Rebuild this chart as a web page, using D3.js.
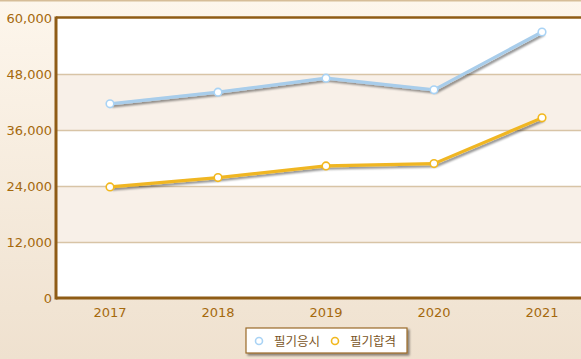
<!DOCTYPE html>
<html><head><meta charset="utf-8">
<script src="https://cdn.jsdelivr.net/npm/d3@7"></script>
<style>
html,body{margin:0;padding:0;overflow:hidden;}
svg{display:block;font-family:"DejaVu Sans",Verdana,sans-serif;}
</style></head>
<body>
<script>
const categories = ["2017","2018","2019","2020","2021"];
const seriesNames = ["필기응시","필기합격"];
const applicants = [41600, 44100, 47100, 44600, 57000];
const passers = [23800, 25800, 28300, 28800, 38600];
const yTicks = [0, 12000, 24000, 36000, 48000, 60000];

(function(){
const W = 581, H = 359;
const svg = d3.select("body").append("svg").attr("width", W).attr("height", H);
const defs = svg.append("defs");
const g0 = defs.append("linearGradient").attr("id","bg").attr("x1",0).attr("y1",0).attr("x2",0).attr("y2",1);
g0.append("stop").attr("offset","0%").attr("stop-color","#fdf6ec");
g0.append("stop").attr("offset","100%").attr("stop-color","#efe1cf");
const f = defs.append("filter").attr("id","sh").attr("x","-10%").attr("y","-50%").attr("width","120%").attr("height","200%");
f.append("feGaussianBlur").attr("in","SourceAlpha").attr("stdDeviation",1.2).attr("result","b");
f.append("feOffset").attr("in","b").attr("dx",1.5).attr("dy",2).attr("result","o");
f.append("feComponentTransfer").attr("in","o").attr("result","o2").append("feFuncA").attr("type","linear").attr("slope",0.45);
const fm = f.append("feMerge"); fm.append("feMergeNode").attr("in","o2"); fm.append("feMergeNode").attr("in","SourceGraphic");

svg.append("rect").attr("width",W).attr("height",H).attr("fill","url(#bg)");
svg.append("rect").attr("x",0).attr("y",0).attr("width",W).attr("height",1.5).attr("fill","#d6bd98");

const pL = 56, pT = 18, pB = 298, pR = 596;
const x = d3.scaleBand().domain(categories).range([pL, pR]);
const y = d3.scaleLinear().domain([0, 60000]).range([pB, pT]);

for (let i = 0; i < yTicks.length - 1; i++) {
  svg.append("rect").attr("x", pL).attr("width", pR - pL)
    .attr("y", y(yTicks[i+1])).attr("height", y(yTicks[i]) - y(yTicks[i+1]))
    .attr("fill", i % 2 === 0 ? "#ffffff" : "#f8f0e8");
}
svg.append("g").selectAll("line").data(yTicks.slice(1,-1)).join("line")
  .attr("x1", pL).attr("x2", pR).attr("y1", d => y(d)+0.5).attr("y2", d => y(d)+0.5)
  .attr("stroke", "#d8c4a6").attr("stroke-width", 1.6);

const ya = svg.append("g").attr("transform", `translate(${pL},0)`)
  .call(d3.axisLeft(y).tickValues(yTicks).tickFormat(d3.format(",")).tickSize(0).tickPadding(4));
ya.select(".domain").remove();
ya.selectAll("text").attr("fill","#a5690d").style("font-size","13px").style("font-family","'DejaVu Sans',Verdana,sans-serif");
const xa = svg.append("g").attr("transform", `translate(0,${pB})`)
  .call(d3.axisBottom(x).tickSize(0).tickPadding(10));
xa.select(".domain").remove();
xa.selectAll("text").attr("fill","#a5690d").style("font-size","13px").style("font-family","'DejaVu Sans',Verdana,sans-serif");

svg.append("line").attr("x1", pL).attr("x2", pR).attr("y1", pT-0.5).attr("y2", pT-0.5).attr("stroke","#8f5c16").attr("stroke-width",2.5);
svg.append("line").attr("x1", pL).attr("x2", pR).attr("y1", pB).attr("y2", pB).attr("stroke","#8f5c16").attr("stroke-width",3);
svg.append("line").attr("x1", pL).attr("x2", pL).attr("y1", pT-1.5).attr("y2", pB+1.5).attr("stroke","#8f5c16").attr("stroke-width",3);

const series = [
  {name: seriesNames[0], values: applicants, line: "#a8cdeb", mark: "#a9d3f5"},
  {name: seriesNames[1], values: passers, line: "#f0b623", mark: "#f2b81e"}
];
const line = d3.line().x((d,i) => x(categories[i]) + x.bandwidth()/2).y(d => y(d));
series.forEach(s => {
  svg.append("path").datum(s.values).attr("d", line).attr("fill","none")
    .attr("stroke", s.line).attr("stroke-width", 3.2).attr("stroke-linejoin","round").attr("filter","url(#sh)");
});
series.forEach(s => {
  svg.append("g").selectAll("circle").data(s.values).join("circle")
    .attr("cx", (d,i) => x(categories[i]) + x.bandwidth()/2).attr("cy", d => y(d))
    .attr("r", 3.8).attr("fill","#fff").attr("stroke", s.mark).attr("stroke-width", 1.6);
});

const lg = svg.append("g");
lg.append("rect").attr("x",246).attr("y",328).attr("width",161).attr("height",25)
  .attr("fill","#fff").attr("stroke","#9a6a2a").attr("stroke-width",1.2).attr("filter","url(#sh)");
const lx = [259, 335];
series.forEach((s,i) => {
  lg.append("circle").attr("cx", lx[i]).attr("cy", 341).attr("r", 3.5).attr("fill","#fff").attr("stroke", s.mark).attr("stroke-width",1.6);
  lg.append("text").attr("x", lx[i]+15).attr("y", 345.5).text(s.name)
    .attr("fill","#7a5426").style("font-size","12.5px").style("font-family","'Noto Sans CJK KR','DejaVu Sans',sans-serif");
});
})();
</script>
</body></html>
